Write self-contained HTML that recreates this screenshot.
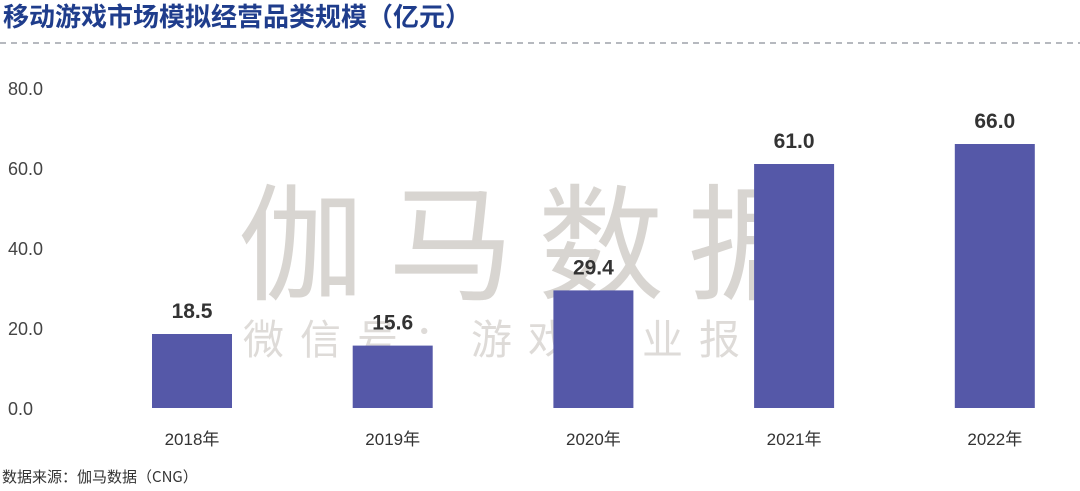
<!DOCTYPE html>
<html><head><meta charset="utf-8"><style>
body{margin:0;width:1080px;height:486px;background:#fff;overflow:hidden;font-family:"Liberation Sans","Noto Sans CJK SC",sans-serif}
</style></head><body>
<svg id="c" width="1080" height="486" xmlns="http://www.w3.org/2000/svg">
<text x="3" y="26" font-size="26" font-weight="bold" fill="#1f3d8c" font-family="Noto Sans CJK SC, sans-serif">移动游戏市场模拟经营品类规模（亿元）</text>
<line x1="0" y1="43" x2="1080" y2="43" stroke="#8a8f99" stroke-width="1.2" stroke-dasharray="6,5"/>
<text x="238" y="290" font-size="126" fill="#d8d5d1" letter-spacing="24" font-family="Noto Sans CJK SC, sans-serif">伽马数据</text>
<text x="243" y="354" font-size="41" fill="#dedbd8" letter-spacing="16" font-family="Noto Sans CJK SC, sans-serif">微信号：游戏产业报告</text>
<g id="yaxis"></g><g id="bars"></g>
<text x="2" y="482" font-size="15" fill="#333" font-family="Noto Sans CJK SC, sans-serif">数据来源：伽马数据（CNG）</text>
</svg>
<script>
const categories=["2018年","2019年","2020年","2021年","2022年"];
const values=[18.5,15.6,29.4,61.0,66.0];
const yTicks=[0,20,40,60,80];
const ns="http://www.w3.org/2000/svg";
const y=v=>408-v*(320/80);
const x=i=>192+i*200.7;
const svg=document.getElementById('c');
function mk(t,a,p,txt){const e=document.createElementNS(ns,t);for(const k in a)e.setAttribute(k,a[k]);if(txt!=null)e.textContent=txt;p.appendChild(e);return e;}
const ya=document.getElementById('yaxis'),bg=document.getElementById('bars');
yTicks.forEach(t=>{const e=mk('text',{x:8,y:y(t)+7,'font-size':18,fill:'#444'},ya,t.toFixed(1));

});
values.forEach((v,i)=>{
const r=mk('rect',{x:x(i)-40,y:y(v),width:80,height:408-y(v),fill:'#5558a8'},bg);


const l=mk('text',{x:x(i),y:y(v)-16,'font-size':21,fill:'#333','text-anchor':'middle','font-weight':'bold'},bg,v.toFixed(1));


const c=mk('text',{x:x(i),y:445,'font-size':17,fill:'#333','text-anchor':'middle','font-family':'Liberation Sans, Noto Sans CJK SC, sans-serif'},bg,categories[i]);


});
</script>
</body></html>
